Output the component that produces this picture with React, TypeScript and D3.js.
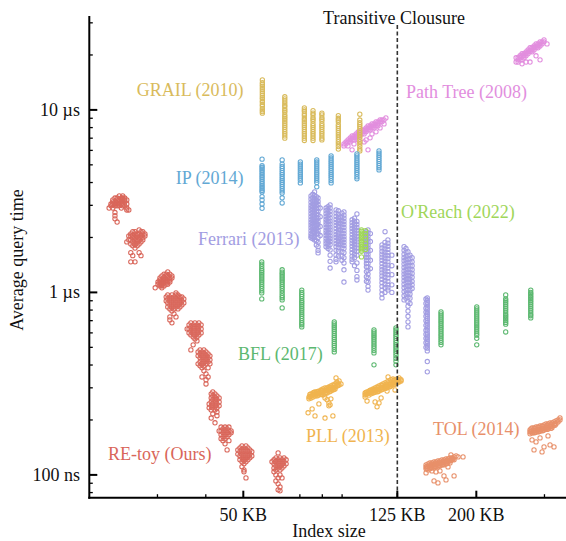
import React from "react";
import * as d3 from "d3";

// Each column: [index size in KB, query times in µs]
type Col = [number, number[]];

const reToy: Col[] = [
  [22.5, [2.9]], [22.75, [3.05, 2.98]], [23.0, [3.21, 3.13, 3.05, 2.9]],
  [23.3, [3.29, 3.13, 3.05, 2.98, 2.74, 2.63, 2.53]], [23.6, [3.29, 3.21, 3.05, 2.98, 2.43]],
  [23.9, [3.38, 3.21, 3.13, 3.05, 2.98]], [24.2, [3.29, 3.21, 3.13, 3.05, 2.9]],
  [24.4, [3.38, 3.29, 3.21, 3.05, 2.98]], [24.7, [3.29, 3.21, 3.13, 2.98]],
  [25.0, [3.21, 3.05, 2.9, 2.83]], [25.3, [2.83]],
  [25.0, [1.89]], [25.3, [2.04, 1.94]], [25.6, [2.09, 2.04, 1.94, 1.84, 1.65, 1.47]],
  [25.9, [2.15, 2.04, 1.99, 1.89, 1.8, 1.59]], [26.25, [2.15, 2.09, 1.99, 1.94, 1.84, 1.75, 1.47]],
  [26.6, [2.09, 2.04, 1.94, 1.89, 1.8]], [26.9, [2.2, 2.09, 1.99, 1.94, 1.84, 1.65]],
  [27.2, [2.15, 2.04, 1.99, 1.89, 1.59]], [27.5, [2.15, 2.09, 1.99, 1.94]], [27.85, [2.09, 2.04]],
  [29.6, [1.06]], [30.1, [1.14, 1.11]], [30.45, [1.2, 1.17, 1.14, 1.11, 1.085]],
  [30.8, [1.23, 1.17, 1.14, 1.11, 1.085, 1.06]], [31.2, [1.26, 1.2, 1.17, 1.14, 1.085]],
  [31.6, [1.26, 1.23, 1.17, 1.14, 1.11]], [31.9, [1.295, 1.23, 1.2, 1.14, 1.11]],
  [32.3, [1.26, 1.2, 1.17, 1.14]], [32.7, [1.23, 1.2]],
  [31.6, [0.945, 0.898]], [31.9, [0.969, 0.921, 0.876, 0.833]],
  [32.3, [0.945, 0.898, 0.854, 0.812, 0.734, 0.707]], [32.7, [0.969, 0.921, 0.876, 0.833, 0.792, 0.681]],
  [33.1, [0.945, 0.898, 0.854, 0.812, 0.763]], [33.5, [0.994, 0.969, 0.921, 0.876, 0.833, 0.734]],
  [33.9, [0.969, 0.945, 0.898, 0.854, 0.812]], [34.3, [0.945, 0.921, 0.876, 0.833]],
  [34.7, [0.945, 0.898, 0.854]], [35.1, [0.921, 0.876]],
  [35.8, [0.631]], [36.2, [0.664, 0.631, 0.6]], [36.6, [0.681, 0.647, 0.615, 0.585, 0.484]],
  [37.1, [0.664, 0.631, 0.6, 0.57, 0.516]], [37.5, [0.681, 0.647, 0.615, 0.585, 0.556]],
  [37.95, [0.664, 0.631, 0.6, 0.57, 0.542]], [38.4, [0.681, 0.647, 0.615, 0.585]], [38.9, [0.664, 0.631, 0.6]],
  [38.2, [0.472, 0.449, 0.406]], [38.65, [0.484, 0.46, 0.438, 0.416, 0.396]],
  [39.1, [0.472, 0.449, 0.427, 0.406, 0.386, 0.344]], [39.55, [0.484, 0.46, 0.438, 0.416, 0.396, 0.372]],
  [40.05, [0.472, 0.449, 0.427, 0.406, 0.358, 0.332, 0.315]], [40.55, [0.46, 0.438, 0.416, 0.386, 0.344]],
  [41.0, [0.449, 0.427, 0.406]],
  [40.8, [0.245, 0.233]], [41.3, [0.278, 0.264, 0.251, 0.239, 0.227, 0.205]],
  [41.7, [0.285, 0.271, 0.258, 0.245, 0.233, 0.216]], [42.25, [0.278, 0.264, 0.251, 0.239, 0.227, 0.193]],
  [42.75, [0.271, 0.258, 0.245, 0.233, 0.221, 0.211]], [43.3, [0.264, 0.251, 0.239]],
  [43.3, [0.174]], [43.8, [0.183, 0.174, 0.166, 0.158]], [44.3, [0.179, 0.17, 0.162, 0.154]],
  [44.85, [0.183, 0.174, 0.166, 0.158, 0.148]], [45.4, [0.179, 0.17, 0.162, 0.137]],
  [45.9, [0.183, 0.174, 0.166, 0.154]], [46.5, [0.174, 0.17]],
  [48.4, [0.137, 0.13]], [49.0, [0.1405, 0.134, 0.127, 0.121]],
  [49.6, [0.144, 0.137, 0.13, 0.124, 0.118, 0.111]], [50.2, [0.1405, 0.134, 0.127, 0.121, 0.115, 0.1065, 0.104]],
  [50.8, [0.144, 0.137, 0.13, 0.124, 0.118, 0.0963]], [51.4, [0.1405, 0.134, 0.127, 0.121]],
  [52.0, [0.137, 0.13, 0.124]], [52.6, [0.134, 0.127]],
  [59.3, [0.118]], [60.0, [0.121, 0.115, 0.109, 0.104]], [60.7, [0.124, 0.118, 0.112, 0.1065, 0.1, 0.0927]],
  [61.5, [0.132, 0.121, 0.115, 0.109, 0.0963, 0.0893, 0.0828]], [62.2, [0.124, 0.118, 0.112, 0.1065, 0.1, 0.0859, 0.0818]],
  [62.95, [0.121, 0.115, 0.109, 0.0963]], [63.7, [0.124, 0.118, 0.112]], [64.5, [0.121, 0.115]],
];

const grail: Col[] = [
  [56, [9.6, 9.8, 10.0, 10.2, 10.5, 10.7, 11.0, 11.2, 11.5, 11.7, 12.0, 12.3, 12.6, 12.9, 13.2, 13.5, 13.8, 14.1, 14.6]],
  [64, [7.0, 7.2, 7.4, 7.6, 7.8, 8.0, 8.2, 8.4, 8.6, 8.8, 9.0, 9.2, 9.4, 9.7, 9.9, 10.1, 10.4, 10.6, 10.9, 11.2, 11.5, 11.8]],
  [71.9, [6.8, 7.0, 7.2, 7.4, 7.6, 7.8, 8.0, 8.2, 8.4, 8.6, 8.8, 9.0, 9.3, 9.5, 9.8, 10.0, 10.25]],
  [75.7, [6.8, 7.0, 7.2, 7.4, 7.6, 7.8, 8.0, 8.2, 8.4, 8.7, 8.9, 9.1, 9.4, 9.6, 9.9]],
  [79.8, [6.85, 7.0, 7.2, 7.4, 7.6, 7.8, 8.0, 8.2, 8.4, 8.7, 8.9, 9.1, 9.4, 9.6]],
  [88, [6.1, 6.3, 6.5, 6.7, 6.9, 7.1, 7.3, 7.5, 7.7, 7.9, 8.1, 8.3, 8.6, 8.8, 9.0, 9.3]],
  [100, [5.96, 6.1, 6.3, 6.5, 6.7, 6.9, 7.1, 7.3, 7.5, 7.7, 7.9, 8.1, 8.3, 8.5, 8.8, 9.47]],
];

const ip: Col[] = [
  [55.9, [5.37, 4.95, 4.85, 4.75, 4.65, 4.55, 4.45, 4.35, 4.25, 4.15, 4.05, 3.96, 3.87, 3.78, 3.7, 3.62, 3.55, 3.35, 3.21, 3.05, 2.89]],
  [63, [5.32, 5.05, 4.9, 4.78, 4.65, 4.53, 4.42, 4.3, 4.2, 4.1, 4.0, 3.9, 3.8, 3.7, 3.6, 3.5, 3.3, 3.09]],
  [70.2, [5.19, 5.05, 4.92, 4.8, 4.68, 4.56, 4.45, 4.34, 4.23, 4.12, 3.98]],
  [77.4, [5.32, 5.18, 5.05, 4.92, 4.8, 4.68, 4.56, 4.45, 4.34, 4.23, 4.12, 4.0, 3.79]],
  [84.3, [5.6, 5.45, 5.3, 5.17, 5.04, 4.91, 4.79, 4.67, 4.55, 4.44, 4.33, 4.22, 4.1, 3.98]],
  [98.3, [5.74, 5.6, 5.45, 5.3, 5.17, 5.04, 4.91, 4.79, 4.67, 4.55, 4.44, 4.3, 4.19]],
  [112.1, [5.96, 5.8, 5.65, 5.5, 5.35, 5.22, 5.08, 4.95, 4.82, 4.69]],
];

const ferrari: Col[] = [
  [74.8, [3.38, 3.25, 3.12, 3.0, 2.9, 2.8, 2.7, 2.6, 2.5, 2.42, 2.34, 2.26, 2.18, 2.1, 2.04, 1.99]],
  [75.6, [3.45, 3.3, 3.18, 3.06, 2.95, 2.85, 2.75, 2.65, 2.56, 2.47, 2.39, 2.31, 2.23, 2.16, 2.09, 2.02, 1.97]],
  [76.4, [3.55, 3.4, 3.28, 3.15, 3.03, 2.92, 2.82, 2.72, 2.62, 2.53, 2.45, 2.37, 2.29, 2.21, 2.13, 2.06, 2.0, 1.94]],
  [77.2, [3.35, 3.22, 3.1, 2.98, 2.87, 2.77, 2.67, 2.58, 2.49, 2.4, 2.32, 2.24, 2.16, 2.08, 1.92, 1.82]],
  [78.0, [3.29, 3.15, 3.03, 2.9, 2.78, 2.66, 2.55, 2.45, 2.36, 2.27, 2.18, 2.1, 2.0, 1.88, 1.78, 1.7, 1.646]],
  [79.0, [2.9, 2.6, 2.3, 2.05]],
  [81.8, [2.9, 2.8, 2.7, 2.6, 2.51, 2.43, 2.35, 2.27, 2.19, 2.12, 2.05, 1.98, 1.91, 1.85, 1.78]],
  [82.8, [2.95, 2.84, 2.73, 2.63, 2.54, 2.45, 2.36, 2.28, 2.2, 2.13, 2.06, 1.99, 1.92, 1.86, 1.8, 1.74]],
  [83.8, [3.02, 2.9, 2.78, 2.67, 2.56, 2.46, 2.37, 2.28, 2.2, 2.12, 2.04, 1.97, 1.9, 1.83, 1.71, 1.6, 1.48, 1.36]],
  [86.8, [2.83, 2.72, 2.61, 2.51, 2.42, 2.33, 2.24, 2.15, 2.07, 2.0, 1.92, 1.85, 1.78, 1.7, 1.6, 1.52, 1.47]],
  [88.0, [2.8, 2.68, 2.57, 2.47, 2.38, 2.29, 2.2, 2.12, 2.04, 1.97, 1.9, 1.83, 1.76, 1.68, 1.58]],
  [89.0, [2.6, 2.4, 2.2, 2.0, 1.85]],
  [89.9, [2.72, 2.58, 2.47, 2.37, 2.28, 2.19, 2.11, 2.03, 1.96, 1.89, 1.82, 1.75, 1.67, 1.58, 1.5]],
  [91.0, [2.76, 2.65, 2.55, 2.45, 2.36, 2.27, 2.18, 2.1, 2.02, 1.95, 1.88, 1.81, 1.74, 1.65, 1.55, 1.45, 1.33, 1.14]],
  [95.5, [2.5, 2.41, 2.32, 2.24, 2.16, 2.08, 2.0, 1.93, 1.86, 1.79, 1.72, 1.65, 1.58, 1.52, 1.47]],
  [96.9, [2.55, 2.46, 2.37, 2.28, 2.2, 2.12, 2.04, 1.97, 1.9, 1.83, 1.76, 1.69, 1.62, 1.55, 1.4]],
  [98.3, [2.69, 2.45, 2.36, 2.27, 2.19, 2.11, 2.03, 1.96, 1.89, 1.82, 1.75, 1.68, 1.6, 1.45, 1.32, 1.22, 1.17]],
  [104, [2.15, 2.06, 1.98, 1.9, 1.83, 1.76, 1.69, 1.62, 1.56, 1.5, 1.44, 1.38, 1.3, 1.22, 1.15]],
  [105, [2.2, 2.12, 2.04, 1.96, 1.89, 1.82, 1.75, 1.68, 1.62, 1.56, 1.5, 1.44, 1.38, 1.32, 1.26, 1.2, 1.14, 1.08, 1.03]],
  [106.5, [2.1, 1.9, 1.7, 1.5, 1.35]],
  [116.2, [2.15]],
  [114.1, [1.82, 1.75, 1.68, 1.62, 1.56, 1.5, 1.44, 1.38, 1.33, 1.28, 1.23, 1.18, 1.13, 1.08, 1.03, 0.98, 0.933]],
  [116.1, [1.88, 1.8, 1.73, 1.66, 1.6, 1.54, 1.48, 1.42, 1.36, 1.31, 1.26, 1.21, 1.16, 1.11, 1.06, 1.0]],
  [118.2, [1.94, 1.86, 1.79, 1.72, 1.65, 1.59, 1.53, 1.47, 1.41, 1.36, 1.3, 1.25, 1.2, 1.15, 1.1, 1.06, 1.03]],
  [121, [1.6, 1.4, 1.25, 1.1, 1.0]],
  [130.1, [1.78, 1.7, 1.62, 1.55, 1.49, 1.43, 1.37, 1.31, 1.26, 1.21, 1.16, 1.11, 1.06, 1.01, 0.96, 0.91]],
  [131.6, [1.74, 1.66, 1.58, 1.51, 1.45, 1.39, 1.33, 1.28, 1.23, 1.18, 1.13, 1.08, 1.03, 0.98, 0.93]],
  [133.2, [1.67, 1.59, 1.52, 1.46, 1.4, 1.34, 1.29, 1.24, 1.19, 1.14, 1.09, 1.04, 0.99, 0.94, 0.89, 0.84, 0.79, 0.74, 0.69, 0.647]],
  [134.8, [1.6, 1.53, 1.46, 1.4, 1.34, 1.28, 1.23, 1.18, 1.13, 1.08, 1.03, 0.98, 0.93, 0.87]],
  [136.5, [1.55, 1.47, 1.4, 1.33, 1.27, 1.21, 1.15, 1.1, 1.05]],
  [148.2, [0.92, 0.87, 0.82, 0.78, 0.74, 0.7, 0.66, 0.62, 0.59, 0.56, 0.53, 0.5]],
  [149.4, [0.933, 0.905, 0.88, 0.855, 0.83, 0.805, 0.78, 0.76, 0.74, 0.72, 0.7, 0.68, 0.66, 0.64, 0.62, 0.6, 0.585, 0.57, 0.555, 0.54, 0.525, 0.51, 0.495, 0.478, 0.418, 0.367]],
];

const oReach: Col[] = [
  [101, [2.2, 2.16, 2.12, 2.08, 2.04, 2.0, 1.96, 1.92, 1.88, 1.84, 1.8, 1.77, 1.74, 1.71, 1.68, 1.565]],
  [103.5, [2.18, 2.1, 2.02, 1.94, 1.86, 1.78, 1.72]],
];

const bfl: Col[] = [
  [55.8, [1.47, 1.43, 1.39, 1.35, 1.32, 1.29, 1.26, 1.23, 1.2, 1.17, 1.14, 1.11, 1.08, 1.05, 1.02, 0.994, 0.921]],
  [63, [1.33, 1.29, 1.26, 1.23, 1.2, 1.17, 1.14, 1.11, 1.08, 1.05, 1.02, 0.99, 0.96, 0.935, 0.91, 0.822]],
  [70.8, [1.03, 1.0, 0.975, 0.95, 0.925, 0.9, 0.88, 0.86, 0.84, 0.82, 0.8, 0.78, 0.76, 0.74, 0.72, 0.7, 0.68, 0.665, 0.647]],
  [85.9, [0.689, 0.672, 0.655, 0.64, 0.625, 0.61, 0.595, 0.58, 0.566, 0.552, 0.538, 0.525, 0.512, 0.5, 0.486, 0.472]],
  [108.8, [0.623, 0.607, 0.592, 0.578, 0.564, 0.55, 0.536, 0.522, 0.508, 0.495, 0.48, 0.466, 0.401]],
  [124.0, [0.639, 0.622, 0.606, 0.59, 0.575, 0.56, 0.545, 0.53, 0.516, 0.503, 0.49, 0.477, 0.464, 0.45, 0.435, 0.42, 0.401]],
  [162.1, [0.782, 0.762, 0.743, 0.725, 0.707, 0.69, 0.673, 0.656, 0.64, 0.624, 0.608, 0.592, 0.577, 0.562, 0.547, 0.532, 0.516]],
  [200.5, [0.833, 0.812, 0.792, 0.772, 0.753, 0.734, 0.716, 0.698, 0.68, 0.663, 0.646, 0.63, 0.614, 0.598, 0.583, 0.56, 0.516]],
  [238.2, [0.969, 0.92, 0.9, 0.88, 0.86, 0.84, 0.82, 0.8, 0.78, 0.76, 0.745, 0.73, 0.715, 0.7, 0.685, 0.67, 0.607]],
  [276.5, [1.03, 1.0, 0.98, 0.96, 0.94, 0.92, 0.9, 0.88, 0.86, 0.84, 0.82, 0.8, 0.78, 0.76, 0.745, 0.725]],
];

const pll: Col[] = [
  [73.5, [0.219]], [73.9, [0.267, 0.261]], [74.3, [0.269, 0.276]], [74.8, [0.271, 0.264, 0.278]], [75.3, [0.23]],
  [75.7, [0.274, 0.267, 0.281]], [76.1, [0.276, 0.283]], [76.6, [0.278, 0.271, 0.285, 0.2105]],
  [77.5, [0.278, 0.285, 0.271]], [77.9, [0.28, 0.274, 0.287]],
  [78.4, [0.281, 0.288, 0.274, 0.245]], [79.4, [0.285, 0.292, 0.278]], [79.8, [0.283, 0.29, 0.276]],
  [80.3, [0.285, 0.296, 0.274]], [81.3, [0.288, 0.2995, 0.278, 0.264, 0.205]], [81.8, [0.29, 0.283, 0.296]],
  [82.3, [0.292, 0.2995, 0.281, 0.258]], [83.2, [0.296, 0.303, 0.285, 0.248, 0.239]], [83.7, [0.294, 0.301, 0.287]],
  [83.8, [0.242]], [84.2, [0.2995, 0.307, 0.288, 0.261]], [85.2, [0.2995, 0.311, 0.292, 0.2105]],
  [85.7, [0.301, 0.294, 0.309]], [86.3, [0.303, 0.315, 0.296]], [86.8, [0.34]],
  [87.3, [0.307, 0.319, 0.323]], [87.8, [0.309, 0.315]], [88.4, [0.311, 0.327]], [89.4, [0.315]],
  [103.2, [0.274, 0.281, 0.267]], [103.8, [0.276, 0.283]], [104.4, [0.278, 0.285, 0.254]],
  [105.6, [0.281, 0.288, 0.274]], [106.2, [0.283, 0.29]], [106.9, [0.285, 0.292, 0.278]],
  [108.2, [0.288, 0.296, 0.281]], [108.8, [0.29, 0.294, 0.283]], [109.5, [0.292, 0.2995, 0.285, 0.251]],
  [110.8, [0.292, 0.303, 0.285, 0.236]], [111.4, [0.294, 0.301, 0.287]], [112.1, [0.296, 0.307, 0.288, 0.248]],
  [113.5, [0.2995, 0.311, 0.292, 0.264]], [114.1, [0.301, 0.309, 0.294]], [114.8, [0.303, 0.315, 0.296]],
  [116.2, [0.307, 0.319, 0.2995]], [116.9, [0.305, 0.313, 0.298]], [117.6, [0.307, 0.323, 0.303, 0.288]],
  [118.3, [0.344]], [119.0, [0.311, 0.327, 0.303]], [119.7, [0.313, 0.321, 0.305]],
  [120.4, [0.315, 0.332, 0.307]], [121.8, [0.319, 0.336, 0.311]], [122.5, [0.321, 0.329, 0.313]],
  [123.3, [0.323, 0.332, 0.315, 0.292]], [124.8, [0.323, 0.336, 0.319]], [125.5, [0.325, 0.334]],
  [126.3, [0.327, 0.34, 0.323]], [127.8, [0.332, 0.327]],
];

const tol: Col[] = [
  [148.3, [0.1106, 0.1134, 0.1079, 0.1025]], [149.2, [0.1113, 0.1085]], [150.1, [0.1106, 0.1149, 0.1065]],
  [151.8, [0.112, 0.1163, 0.1079]], [152.7, [0.1127, 0.1141, 0.1099]],
  [153.6, [0.112, 0.1163, 0.1092, 0.1052]], [155.5, [0.1134, 0.1178, 0.1092, 0.0927]],
  [156.4, [0.1141, 0.1156, 0.1113]], [157.3, [0.1134, 0.1178, 0.1106, 0.1038]],
  [159.2, [0.1149, 0.1193, 0.1106, 0.0904]], [160.1, [0.1156, 0.1171, 0.1127]],
  [161.1, [0.1149, 0.1193, 0.112, 0.1052]], [163.0, [0.1163, 0.1209, 0.1134]], [164.0, [0.117, 0.1186, 0.1141]],
  [165.0, [0.1163, 0.1209, 0.1134, 0.0987]], [167.0, [0.1178, 0.1224, 0.1149, 0.0939]],
  [168.0, [0.1185, 0.12, 0.1156]], [169.0, [0.1178, 0.1224, 0.1106]], [171.0, [0.1193, 0.1239, 0.1163]],
  [172.0, [0.1287, 0.12, 0.1216]], [173.1, [0.1209, 0.1239]], [174.0, [0.1216, 0.123]],
  [175.2, [0.1209, 0.1255, 0.0987]], [177.3, [0.1271]], [179.4, [0.1255]], [184.8, [0.1255]],
  [275.3, [0.172, 0.1764, 0.1678]], [277.0, [0.1731, 0.1786]], [278.6, [0.1742, 0.181, 0.1699, 0.1555]],
  [281.9, [0.1742, 0.181, 0.1699, 0.1371]], [283.6, [0.1753, 0.1798, 0.171]],
  [285.3, [0.1764, 0.1832, 0.172, 0.1516]], [288.7, [0.1764, 0.1832, 0.172]], [290.4, [0.1776, 0.182, 0.173]],
  [292.2, [0.1787, 0.1856, 0.1742, 0.1595]], [295.7, [0.1787, 0.1856, 0.1742, 0.1337]],
  [297.4, [0.1798, 0.1844, 0.1753]], [299.2, [0.181, 0.188, 0.1764, 0.1423]], [302.8, [0.1832, 0.1903, 0.1787]],
  [304.6, [0.1821, 0.1868, 0.1776]], [306.4, [0.1832, 0.1903, 0.1787, 0.1636]], [310.1, [0.1856, 0.1927, 0.146]],
  [312.0, [0.1844, 0.1892, 0.18]], [313.8, [0.1856, 0.1927, 0.181]], [317.5, [0.188, 0.1951, 0.1423]],
  [319.4, [0.1868, 0.1916]], [321.3, [0.1903, 0.1976]], [325.2, [0.1951, 0.2]], [329.0, [0.2, 0.2053]],
];

const pathTree: Col[] = [
  [91.0, [6.51, 6.35]], [92.1, [6.68, 6.51]], [93.2, [6.85, 6.68, 6.35]], [94.4, [6.85, 7.03, 6.68]],
  [95.5, [7.03, 6.85, 7.2, 6.04]], [96.6, [7.2, 7.03, 6.85, 6.51]], [97.8, [7.2, 7.39, 7.03]],
  [99.0, [7.39, 7.58, 7.2, 6.85]], [100.1, [7.39, 7.58, 7.2]], [101.3, [7.58, 7.77, 7.39]],
  [102.6, [7.58, 7.77, 7.39, 6.68]], [103.8, [7.77, 7.97, 7.58, 6.85]], [105.0, [7.97, 8.17, 7.77, 6.04]],
  [106.3, [7.97, 8.17, 7.77, 7.03]], [107.5, [8.17, 8.38, 7.97, 7.39]], [108.8, [8.17, 8.38, 7.97]],
  [110.1, [8.38, 8.6, 8.17, 7.58]], [111.4, [8.38, 8.6, 8.17]], [112.8, [8.6, 8.82, 7.97]],
  [114.1, [8.82, 8.6]], [115.5, [8.82, 8.38]], [116.8, [9.04]],
  [253.4, [19.3, 18.3]], [256.4, [18.8, 19.3, 18.3]], [259.4, [19.3, 19.8, 18.8]],
  [262.5, [19.8, 20.3, 18.8, 17.9]], [265.6, [19.8, 20.3, 19.3]], [268.8, [20.3, 20.8, 19.8, 18.3]],
  [272.0, [20.8, 21.3, 20.3]], [275.3, [21.3, 20.8, 21.9, 18.3]], [278.6, [21.3, 21.9, 20.8]],
  [281.9, [21.9, 22.4, 21.3]], [285.3, [22.4, 23.0, 21.9, 19.8]], [288.7, [22.4, 23.0, 21.9]],
  [292.2, [23.0, 23.6, 22.4, 18.8]], [295.7, [23.0, 23.6]], [299.2, [23.6, 24.2]], [304.6, [23.0]],
];

const xMajorTicks = [50, 125, 200];
const xMajorLabels = ["50 KB", "125 KB", "200 KB"];
const xMinorTicks = [30, 40, 70, 80, 90, 300];
const yMajorTicks = [0.1, 1, 10];
const yMajorLabels = ["100 ns", "1 µs", "10 µs"];
const yMinorTicks = [0.08, 0.09, 0.2, 0.3, 0.4, 0.5, 0.6, 0.7, 0.8, 0.9, 2, 3, 4, 5, 6, 7, 8, 9, 20, 30];
const transitiveClosureKB = 125;
const xDomain = [20, 341];
const yDomain = [0.075, 32.7];

const SERIES = [
  { name: "Path Tree (2008)", cols: pathTree, color: "#e28ede", lx: 406, ly: 98, anchor: "start" },
  { name: "GRAIL (2010)", cols: grail, color: "#d9bb5c", lx: 243.5, ly: 96, anchor: "end" },
  { name: "IP (2014)", cols: ip, color: "#62a8d4", lx: 243.5, ly: 184, anchor: "end" },
  { name: "Ferrari (2013)", cols: ferrari, color: "#a29de2", lx: 198, ly: 245, anchor: "start" },
  { name: "O'Reach (2022)", cols: oReach, color: "#9fd65a", lx: 401, ly: 218, anchor: "start" },
  { name: "BFL (2017)", cols: bfl, color: "#5cb870", lx: 238, ly: 360, anchor: "start" },
  { name: "PLL (2013)", cols: pll, color: "#f0b44f", lx: 306, ly: 441.5, anchor: "start" },
  { name: "TOL (2014)", cols: tol, color: "#e8906a", lx: 433, ly: 435, anchor: "start" },
  { name: "RE-toy (Ours)", cols: reToy, color: "#d9665a", lx: 108, ly: 460, anchor: "start" },
];

export default function App() {
  const W = 566, H = 541;
  const left = 89.3, bottom = 497.7, top = 16, right = 566;
  const x = d3.scaleLog().domain(xDomain).range([left, right]);
  const y = d3.scaleLog().domain(yDomain).range([bottom, top]);
  const font = "'Liberation Serif', 'Times New Roman', serif";
  const xTC = x(transitiveClosureKB);
  return (
    <svg width={W} height={H} style={{ position: "absolute", left: 0, top: 0 }} fontFamily={font} fontSize={18}>
      <rect width={W} height={H} fill="#fff" />
      {SERIES.map((s) => (
        <g key={s.name} fill="none" stroke={s.color} strokeWidth={1.05}>
          {s.cols.flatMap(([kb, vals], i) =>
            vals.map((v, j) => <circle key={i + "-" + j} cx={x(kb)} cy={y(v)} r={2.15} />)
          )}
        </g>
      ))}
      <line x1={xTC} x2={xTC} y1={25} y2={bottom} stroke="#333" strokeWidth={1.6} strokeDasharray="4,2.5" />
      {SERIES.map((s) => (
        <text key={"l" + s.name} x={s.lx} y={s.ly} fill={s.color} textAnchor={s.anchor as any}>{s.name}</text>
      ))}
      <text x={394} y={23.5} textAnchor="middle" fill="#111">Transitive Clousure</text>
      <line x1={left} x2={left} y1={top} y2={bottom + 1} stroke="#000" strokeWidth={2} />
      <line x1={left - 1} x2={right} y1={bottom} y2={bottom} stroke="#000" strokeWidth={2} />
      {yMajorTicks.map((v, i) => (
        <g key={"ym" + v}>
          <line x1={left} x2={left + 8} y1={y(v)} y2={y(v)} stroke="#000" strokeWidth={2} />
          <text x={80} y={y(v) + 6} textAnchor="end" fill="#111">{yMajorLabels[i]}</text>
        </g>
      ))}
      {yMinorTicks.map((v) => (
        <line key={"yn" + v} x1={left} x2={left + 3.5} y1={y(v)} y2={y(v)} stroke="#000" strokeWidth={1.3} />
      ))}
      {xMajorTicks.map((v, i) => (
        <g key={"xm" + v}>
          <line x1={x(v)} x2={x(v)} y1={bottom} y2={bottom - 7} stroke="#000" strokeWidth={2} />
          <text x={x(v)} y={520.5} textAnchor="middle" fill="#111">{xMajorLabels[i]}</text>
        </g>
      ))}
      {xMinorTicks.map((v) => (
        <line key={"xn" + v} x1={x(v)} x2={x(v)} y1={bottom} y2={bottom - 3.5} stroke="#000" strokeWidth={1.3} />
      ))}
      <text x={329} y={536.5} textAnchor="middle" fill="#111">Index size</text>
      <text transform="translate(23,260) rotate(-90)" textAnchor="middle" fill="#111">Average query time</text>
    </svg>
  );
}
